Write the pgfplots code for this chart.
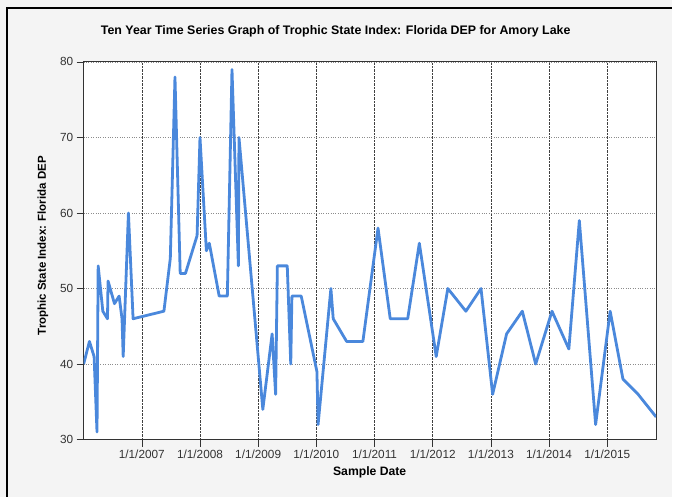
\documentclass[border=0pt]{standalone}
\usepackage{fontspec}
\setmainfont{Liberation Sans}
\usepackage{pgfplots}
\pgfplotsset{compat=1.18}
\definecolor{bg}{HTML}{F4F4F4}
\definecolor{tsi}{HTML}{4A88DC}
\definecolor{ticktext}{HTML}{333333}
\begin{document}
\begin{tikzpicture}[x=1pt,y=1pt]
\fill[bg] (0,0) rectangle (673,497);
\draw[black, line width=1.2pt] (7,0) -- (7,489) -- (673,489);
\node[font=\bfseries\fontsize{12.4}{14}\selectfont] at (336,466) {Ten Year Time Series Graph of Trophic State Index: Florida DEP for Amory Lake};
\node[font=\bfseries\fontsize{12.2}{14}\selectfont] at (370,24) {Sample Date};
\node[font=\bfseries\fontsize{11.5}{13}\selectfont, rotate=90] at (43,251) {Trophic State Index: Florida DEP};
\begin{axis}[
  at={(83.7pt,57pt)}, anchor=south west,
  scale only axis, width=573pt, height=378pt,
  xmin=2006.0, xmax=2015.84, ymin=30, ymax=80,
  ytick={30,40,50,60,70,80},
  xtick={2007,2008,2009,2010,2011,2012,2013,2014,2015},
  xticklabels={1/1/2007,1/1/2008,1/1/2009,1/1/2010,1/1/2011,1/1/2012,1/1/2013,1/1/2014,1/1/2015},
  tick pos=left, tick align=outside, major tick length=7pt,
  tick style={gray!40!black, line width=0.6pt},
  /pgf/number format/assume math mode=true,
  tick label style={font=\fontsize{11.8}{13}\selectfont, text=ticktext},
  grid=major,
  x grid style={densely dotted, black!75, line width=0.6pt},
  y grid style={dotted, black!45, line width=0.7pt},
  axis line style={gray!40!black, line width=1pt},
  axis background/.style={fill=white},
  clip=true,
]
\addplot[tsi, line width=2.8pt, line join=round] coordinates {
(2006.00,40) (2006.10,43) (2006.18,41) (2006.23,31) (2006.25,53)
(2006.33,47) (2006.41,46) (2006.42,51) (2006.53,48) (2006.61,49)
(2006.66,46) (2006.68,41) (2006.77,60) (2006.85,46) (2007.38,47)
(2007.49,54) (2007.57,78) (2007.66,52) (2007.75,52) (2007.95,57)
(2008.00,70) (2008.11,55) (2008.16,56) (2008.33,49) (2008.47,49)
(2008.55,79) (2008.66,53) (2008.67,70) (2009.08,34) (2009.24,44)
(2009.30,36) (2009.33,53) (2009.50,53) (2009.56,40) (2009.58,49)
(2009.74,49) (2010.01,39) (2010.03,32) (2010.25,50) (2010.29,46)
(2010.52,43) (2010.80,43) (2011.06,58) (2011.27,46) (2011.57,46)
(2011.77,56) (2012.06,41) (2012.26,50) (2012.57,47) (2012.83,50)
(2013.03,36) (2013.27,44) (2013.54,47) (2013.77,40) (2014.05,47)
(2014.34,42) (2014.52,59) (2014.80,32) (2015.05,47) (2015.27,38)
(2015.53,36) (2015.84,33)
};
\end{axis}
\end{tikzpicture}
\end{document}
